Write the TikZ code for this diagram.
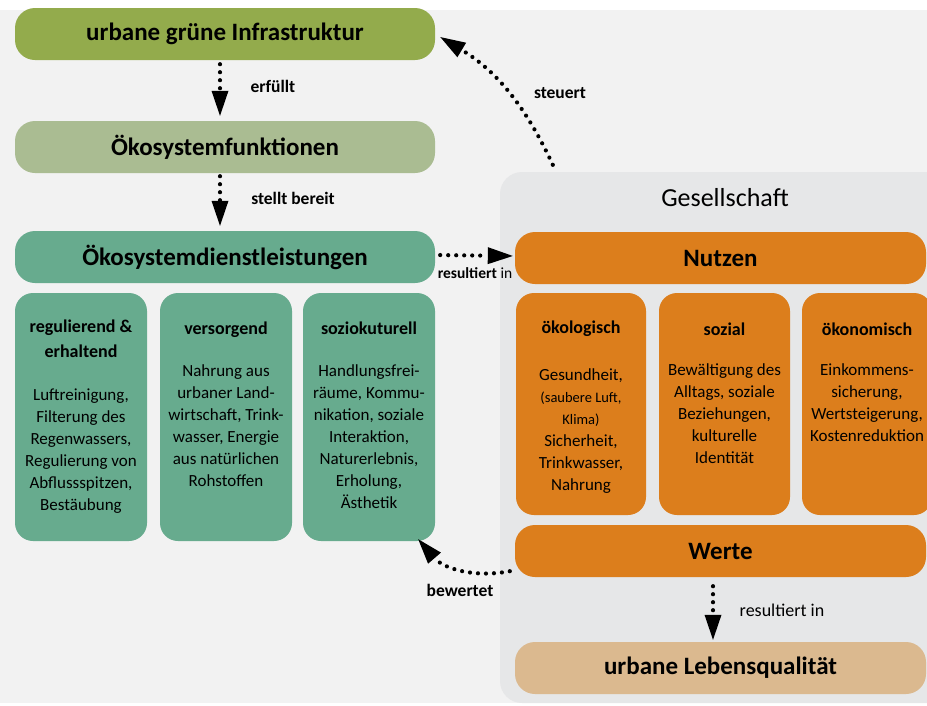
\documentclass[tikz,border=0pt]{standalone}
\usepackage{fontspec}
\setmainfont{Carlito}
\usetikzlibrary{positioning,arrows.meta}
\definecolor{infragreen}{RGB}{147,171,76}
\definecolor{funkgreen}{RGB}{170,188,146}
\definecolor{dienstgreen}{RGB}{103,171,142}
\definecolor{nutzorange}{RGB}{220,126,28}
\definecolor{lqbeige}{RGB}{219,185,143}
\definecolor{bggray}{RGB}{242,242,242}
\definecolor{gesgray}{RGB}{230,231,232}

\begin{document}
\begin{tikzpicture}[x=1pt, y=-1pt,
  bigbox/.style={rounded corners=20pt, minimum width=420pt,
    minimum height=52pt, inner sep=0pt,
    font=\fontsize{25}{30}\selectfont\bfseries},
  subbox/.style={rounded corners=18pt, minimum width=132pt,
    minimum height=248pt, inner sep=0pt},
  subhead/.style={align=center, inner sep=0pt,
    font=\fontsize{18}{25}\selectfont\bfseries},
  subtext/.style={align=center, inner sep=0pt,
    font=\fontsize{17}{22}\selectfont},
  lbl/.style={font=\fontsize{17.5}{20}\selectfont\bfseries},
  flow/.style={line width=4.2pt, line cap=round,
    dash pattern=on 0pt off 8pt,
    -{Triangle[length=25pt, width=17pt, line width=0pt]}}]
%
\useasboundingbox (0,0) rectangle (927,705);
\clip (0,0) rectangle (927,705);
%
% ---- Background ----
\fill[bggray] (0,10) rectangle (927,703);
\node[fill=gesgray, rounded corners=22pt, minimum width=460pt,
  minimum height=531pt, inner sep=0pt] (ges) at (730,437.5) {};
\node[font=\fontsize{26}{30}\selectfont] (ges-t) at (725,198) {Gesellschaft};
%
% ---- Left column ----
\node[bigbox, fill=infragreen] (infra) at (225,34) {urbane grüne Infrastruktur};
\node[bigbox, fill=funkgreen] (funk) at (225,147) {Ökosystemfunktionen};
\node[bigbox, fill=dienstgreen] (dienst) at (225,257) {Ökosystemdienstleistungen};
%
\node[subbox, fill=dienstgreen] (reg) at (81,417) {};
\node[subbox, fill=dienstgreen] (vers) at (226,417) {};
\node[subbox, fill=dienstgreen] (sozio) at (369,417) {};
%
\node[subhead, below=27pt of reg.north] (reg-h) {regulierend \&\\erhaltend};
\node[subtext, below=96pt of reg.north] (reg-t)
  {Luftreinigung,\\Filterung des\\Regenwassers,\\Regulierung von\\Abflussspitzen,\\Bestäubung};
\node[subhead, below=29pt of vers.north] (vers-h) {versorgend};
\node[subtext, below=72pt of vers.north] (vers-t)
  {Nahrung aus\\urbaner Land-\\wirtschaft, Trink-\\wasser, Energie\\aus natürlichen\\Rohstoffen};
\node[subhead, below=29pt of sozio.north] (sozio-h) {soziokuturell};
\node[subtext, below=72pt of sozio.north] (sozio-t)
  {Handlungsfrei-\\räume, Kommu-\\nikation, soziale\\Interaktion,\\Naturerlebnis,\\Erholung,\\Ästhetik};
%
% ---- Right column ----
\node[bigbox, fill=nutzorange, minimum width=411pt] (nutzen) at (720.5,258) {Nutzen};
%
\node[subbox, fill=nutzorange, minimum width=130pt,
  minimum height=222pt] (oeko) at (581,404) {};
\node[subbox, fill=nutzorange, minimum width=131pt,
  minimum height=222pt] (sozial) at (724.5,404) {};
\node[subbox, fill=nutzorange, minimum width=130pt,
  minimum height=222pt] (oekon) at (867,404) {};
%
\node[subhead, below=28pt of oeko.north] (oeko-h) {ökologisch};
\node[subtext, below=76pt of oeko.north] (oeko-t)
  {Gesundheit,\\{\fontsize{14.5}{20}\selectfont (saubere Luft,}\\
   {\fontsize{14.5}{20}\selectfont Klima)}\\Sicherheit,\\Trinkwasser,\\Nahrung};
\node[subhead, below=30pt of sozial.north] (sozial-h) {sozial};
\node[subtext, below=71pt of sozial.north] (sozial-t)
  {Bewältigung des\\Alltags, soziale\\Beziehungen,\\kulturelle\\Identität};
\node[subhead, below=30pt of oekon.north] (oekon-h) {ökonomisch};
\node[subtext, below=71pt of oekon.north] (oekon-t)
  {Einkommens-\\sicherung,\\Wertsteigerung,\\Kostenreduktion};
%
\node[bigbox, fill=nutzorange, minimum width=411pt] (werte) at (720.5,551) {Werte};
\node[bigbox, fill=lqbeige, minimum width=411pt] (lq) at (720.5,668) {urbane Lebensqualität};
%
% ---- Relations ----
\draw[flow, shorten <=4pt, shorten >=5pt]
  ([xshift=-5pt]infra.south) -- ([xshift=-5pt]funk.north);
\draw[flow, shorten <=3pt, shorten >=5pt]
  ([xshift=-5pt]funk.south) -- ([xshift=-5pt]dienst.north);
\draw[flow, shorten <=5pt, shorten >=2pt]
  ([yshift=2pt]dienst.east) -- ([yshift=2pt]nutzen.west);
\draw[flow, shorten <=9pt, shorten >=2pt]
  ([xshift=-7.5pt]werte.south) -- ([xshift=-7.5pt]lq.north);
\draw[flow, shorten >=6pt]
  ([xshift=53pt, yshift=7pt]ges.north west) to[bend right=17] (infra.east);
\draw[flow]
  ([xshift=-5pt, yshift=6pt]werte.south west) to[bend left=30]
  ([xshift=-17pt, yshift=2pt]sozio.south east);
%
% ---- Labels ----
\node[lbl] (l-erf) at (273,86) {erfüllt};
\node[lbl] (l-bereit) at (293,198) {stellt bereit};
\node[lbl, font=\fontsize{15.5}{18}\selectfont\bfseries] (l-res) at (475,273)
  {resultiert \mdseries in};
\node[lbl] (l-steuert) at (560,93) {steuert};
\node[lbl] (l-bew) at (460,590) {bewertet};
\node[font=\fontsize{18}{22}\selectfont] (l-res2) at (782,610) {resultiert in};
\end{tikzpicture}
\end{document}
